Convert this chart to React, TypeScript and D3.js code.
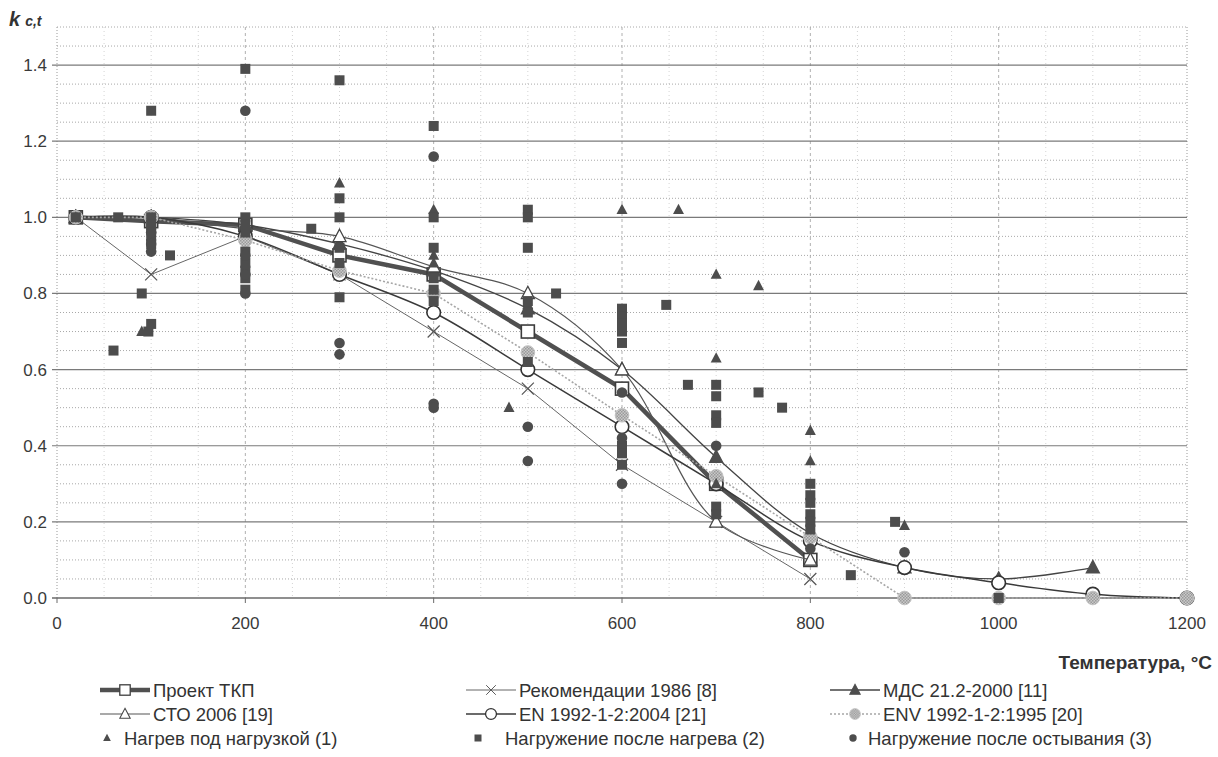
import React, { useEffect, useRef } from "react";
import * as d3 from "d3";

// design curves
const tkpT = [20, 100, 200, 300, 400, 500, 600, 700, 800];
const tkpK = [1.0, 0.99, 0.98, 0.9, 0.85, 0.7, 0.55, 0.3, 0.1];

const rekT = [20, 100, 200, 300, 400, 500, 600, 700, 800];
const rekK = [1.0, 0.85, 0.95, 0.85, 0.7, 0.55, 0.35, 0.2, 0.05];

const mdsT = [20, 100, 200, 300, 400, 500, 600, 700, 800, 900, 1000, 1100];
const mdsK = [1.0, 1.0, 0.98, 0.93, 0.86, 0.76, 0.6, 0.37, 0.17, 0.08, 0.05, 0.08];

const stoT = [20, 100, 200, 300, 400, 500, 600, 700, 800];
const stoK = [1.0, 1.0, 0.97, 0.95, 0.87, 0.8, 0.6, 0.2, 0.1];

const enT = [20, 100, 200, 300, 400, 500, 600, 700, 800, 900, 1000, 1100, 1200];
const enK = [1.0, 1.0, 0.95, 0.85, 0.75, 0.6, 0.45, 0.3, 0.15, 0.08, 0.04, 0.01, 0.0];

const envT = [20, 100, 200, 300, 400, 500, 600, 700, 800, 900, 1000, 1100, 1200];
const envK = [1.0, 1.0, 0.94, 0.86, 0.8, 0.645, 0.48, 0.32, 0.16, 0.0, 0.0, 0.0, 0.0];

// test results: [temperature, k]
const heatedLoaded = [
  [20, 1.0], [90, 0.7], [300, 1.09], [400, 1.02], [400, 0.9], [400, 0.88],
  [480, 0.5], [500, 0.77], [600, 1.02], [660, 1.02], [700, 0.85], [745, 0.82],
  [700, 0.63], [700, 0.37], [700, 0.3], [800, 0.44], [800, 0.36], [900, 0.19],
];

const loadedAfterHeat = [
  [20, 1.0], [60, 0.65], [65, 1.0], [90, 0.8], [97, 0.7], [100, 0.72], [100, 1.28],
  [100, 1.0], [100, 0.98], [100, 0.97], [100, 0.95], [100, 0.93], [120, 0.9],
  [200, 1.39], [200, 1.0], [200, 0.98], [200, 0.96], [200, 0.91], [200, 0.88],
  [200, 0.86], [200, 0.84], [200, 0.81], [270, 0.97], [300, 1.36], [300, 1.05],
  [300, 1.0], [300, 0.92], [300, 0.88], [300, 0.79], [400, 1.24], [400, 1.0],
  [400, 0.92], [400, 0.84], [400, 0.81], [400, 0.78], [500, 1.02], [500, 1.0],
  [500, 0.92], [500, 0.78], [500, 0.75], [500, 0.62], [530, 0.8], [600, 0.76],
  [600, 0.74], [600, 0.72], [600, 0.7], [600, 0.67], [600, 0.4], [600, 0.38],
  [600, 0.35], [647, 0.77], [670, 0.56], [700, 0.56], [700, 0.53], [700, 0.48],
  [700, 0.46], [700, 0.24], [700, 0.22], [745, 0.54], [770, 0.5], [800, 0.3],
  [800, 0.27], [800, 0.25], [800, 0.22], [800, 0.2], [800, 0.18], [843, 0.06],
  [890, 0.2], [1000, 0.0],
];

const loadedAfterCool = [
  [100, 0.91], [100, 0.93], [100, 0.96], [200, 1.28], [200, 0.8], [200, 0.85],
  [200, 0.9], [300, 0.67], [300, 0.64], [400, 1.16], [400, 0.51], [400, 0.5],
  [500, 0.45], [500, 0.36], [600, 0.54], [600, 0.42], [600, 0.3], [700, 0.4],
  [800, 0.13], [900, 0.12],
];

const xTicks = [0, 200, 400, 600, 800, 1000, 1200];
const yTicks = [0, 0.2, 0.4, 0.6, 0.8, 1.0, 1.2, 1.4];

const FONT = "'Liberation Sans', Arial, sans-serif";
const DARK = "#4d4d4d";

export default function App() {
  const svgRef = useRef<SVGSVGElement>(null);

  useEffect(() => {
    document.body.style.margin = "0";
    const svg = d3.select(svgRef.current);
    svg.selectAll("*").remove();

    const x = d3.scaleLinear().domain([0, 1200]).range([57, 1187]);
    const y = d3.scaleLinear().domain([0, 1.5]).range([598, 27]);

    // grid
    const grid = svg.append("g");
    d3.range(50, 1200, 50).filter(t => t % 200 !== 0).forEach(t => {
      grid.append("line").attr("x1", x(t)).attr("x2", x(t)).attr("y1", y(1.5)).attr("y2", y(0))
        .attr("stroke", "#d4d4d4").attr("stroke-dasharray", "1,3");
    });
    [200, 400, 600, 800, 1000].forEach(t => {
      grid.append("line").attr("x1", x(t)).attr("x2", x(t)).attr("y1", y(1.5)).attr("y2", y(0))
        .attr("stroke", "#b0b0b0").attr("stroke-dasharray", "3,3");
    });
    [0, 1200].forEach(t => {
      grid.append("line").attr("x1", x(t)).attr("x2", x(t)).attr("y1", y(1.5)).attr("y2", y(0))
        .attr("stroke", "#999").attr("stroke-dasharray", "1,2");
    });
    d3.range(1, 31).map(i => i * 0.05).forEach(v => {
      const major = Math.abs(v / 0.2 - Math.round(v / 0.2)) < 1e-6 && v < 1.45;
      if (major) return;
      grid.append("line").attr("x1", x(0)).attr("x2", x(1200)).attr("y1", y(v)).attr("y2", y(v))
        .attr("stroke", "#a8a8a8").attr("stroke-dasharray", "1,2");
    });
    yTicks.filter(v => v > 0).forEach(v => {
      grid.append("line").attr("x1", x(0) - 5).attr("x2", x(1200)).attr("y1", y(v)).attr("y2", y(v))
        .attr("stroke", "#7a7a7a").attr("stroke-width", 1.2);
    });
    // x axis
    grid.append("line").attr("x1", x(0) - 5).attr("x2", x(1200)).attr("y1", y(0)).attr("y2", y(0))
      .attr("stroke", "#6a6a6a").attr("stroke-width", 1.5);
    xTicks.forEach(t => {
      grid.append("line").attr("x1", x(t)).attr("x2", x(t)).attr("y1", y(0)).attr("y2", y(0) + 5)
        .attr("stroke", "#6a6a6a");
    });

    // tick labels
    const labels = svg.append("g").attr("font-family", FONT).attr("font-size", 17).attr("fill", "#3a3a3a");
    yTicks.forEach(v => {
      labels.append("text").attr("x", 47).attr("y", y(v) + 6).attr("text-anchor", "end").text(v.toFixed(1));
    });
    xTicks.forEach(t => {
      labels.append("text").attr("x", x(t)).attr("y", 629).attr("text-anchor", "middle").text(t);
    });

    // axis titles
    const yt = svg.append("text").attr("x", 9).attr("y", 26).attr("font-family", FONT)
      .attr("font-weight", "bold").attr("font-style", "italic").attr("fill", "#333");
    yt.append("tspan").attr("font-size", 20).text("k");
    yt.append("tspan").attr("font-size", 14).attr("dx", 5).attr("dy", 0).text("c,t");
    svg.append("text").attr("x", 1212).attr("y", 669).attr("text-anchor", "end").attr("font-family", FONT)
      .attr("font-weight", "bold").attr("font-size", 19).attr("fill", "#333").text("Температура, °C");

    // marker drawing
    const marker = (g: any, type: string, cx: number, cy: number) => {
      if (type === "osq") {
        g.append("rect").attr("x", cx - 6.5).attr("y", cy - 6.5).attr("width", 13).attr("height", 13)
          .attr("fill", "#fff").attr("stroke", "#3c3c3c").attr("stroke-width", 1.6);
      } else if (type === "cross") {
        const s = 6;
        g.append("path").attr("d", `M${cx - s},${cy - s}L${cx + s},${cy + s}M${cx - s},${cy + s}L${cx + s},${cy - s}`)
          .attr("stroke", "#555").attr("stroke-width", 1.2);
      } else if (type === "ftri" || type === "otri") {
        const s = 13;
        g.append("path").attr("d", `M${cx},${cy - s * 0.55}L${cx + s / 2},${cy + s * 0.4}L${cx - s / 2},${cy + s * 0.4}Z`)
          .attr("fill", type === "ftri" ? DARK : "#fff").attr("stroke", type === "ftri" ? DARK : "#444")
          .attr("stroke-width", 1.3);
      } else if (type === "ocirc") {
        g.append("circle").attr("cx", cx).attr("cy", cy).attr("r", 6.8)
          .attr("fill", "#fff").attr("stroke", "#333").attr("stroke-width", 1.6);
      } else if (type === "gcirc") {
        g.append("circle").attr("cx", cx).attr("cy", cy).attr("r", 6.8)
          .attr("fill", "url(#hatch)").attr("stroke", "#c4c4c4").attr("stroke-width", 1);
      } else if (type === "dtri") {
        const s = 11;
        g.append("path").attr("d", `M${cx},${cy - s * 0.55}L${cx + s / 2},${cy + s * 0.4}L${cx - s / 2},${cy + s * 0.4}Z`)
          .attr("fill", DARK);
      } else if (type === "dsq") {
        g.append("rect").attr("x", cx - 5).attr("y", cy - 5).attr("width", 10).attr("height", 10)
          .attr("fill", DARK);
      } else if (type === "dcirc") {
        g.append("circle").attr("cx", cx).attr("cy", cy).attr("r", 5.3).attr("fill", DARK);
      }
    };

    const defs = svg.append("defs");
    const pat = defs.append("pattern").attr("id", "hatch").attr("width", 3).attr("height", 3)
      .attr("patternUnits", "userSpaceOnUse");
    pat.append("rect").attr("width", 3).attr("height", 3).attr("fill", "#c9c9c9");
    pat.append("rect").attr("width", 1.5).attr("height", 1.5).attr("fill", "#9a9a9a");
    pat.append("rect").attr("x", 1.5).attr("y", 1.5).attr("width", 1.5).attr("height", 1.5).attr("fill", "#9a9a9a");

    // legend order = drawing order
    const series = [
      { T: tkpT, K: tkpK, stroke: "#505050", width: 4.5, dash: null, curve: d3.curveLinear, m: "osq" },
      { T: rekT, K: rekK, stroke: "#666", width: 1, dash: null, curve: d3.curveLinear, m: "cross" },
      { T: mdsT, K: mdsK, stroke: "#444", width: 1.3, dash: null, curve: d3.curveCatmullRom, m: "ftri" },
      { T: stoT, K: stoK, stroke: "#555", width: 1.2, dash: null, curve: d3.curveCatmullRom, m: "otri" },
      { T: enT, K: enK, stroke: "#3a3a3a", width: 1.5, dash: null, curve: d3.curveCatmullRom, m: "ocirc" },
      { T: envT, K: envK, stroke: "#a6a6a6", width: 1.6, dash: "2,2", curve: d3.curveLinear, m: "gcirc" },
    ];

    const linesG = svg.append("g");
    series.forEach(s => {
      const pts = s.T.map((t, i) => [t, s.K[i]] as [number, number]);
      const line = d3.line<[number, number]>().x(d => x(d[0])).y(d => y(d[1])).curve(s.curve);
      linesG.append("path").attr("d", line(pts)).attr("fill", "none").attr("stroke", s.stroke)
        .attr("stroke-width", s.width).attr("stroke-dasharray", s.dash);
      s.T.forEach((t, i) => marker(linesG, s.m, x(t), y(s.K[i])));
    });

    // test points
    const pointsG = svg.append("g");
    heatedLoaded.forEach(d => marker(pointsG, "dtri", x(d[0]), y(d[1])));
    loadedAfterHeat.forEach(d => marker(pointsG, "dsq", x(d[0]), y(d[1])));
    loadedAfterCool.forEach(d => marker(pointsG, "dcirc", x(d[0]), y(d[1])));

    // legend
    const leg = svg.append("g").attr("font-family", FONT).attr("font-size", 18.5).attr("fill", "#333");
    const scaled = (parent: any, s: number, cx: number, cy: number) =>
      parent.append("g").attr("transform", `translate(${cx},${cy}) scale(${s}) translate(${-cx},${-cy})`);
    const legendLines = [
      { s: series[0], label: "Проект ТКП", lx: 100, row: 0 },
      { s: series[1], label: "Рекомендации 1986 [8]", lx: 466, row: 0 },
      { s: series[2], label: "МДС 21.2-2000 [11]", lx: 830, row: 0 },
      { s: series[3], label: "СТО 2006 [19]", lx: 100, row: 1 },
      { s: series[4], label: "EN 1992-1-2:2004 [21]", lx: 466, row: 1 },
      { s: series[5], label: "ENV 1992-1-2:1995 [20]", lx: 830, row: 1 },
    ];
    const rowY = [690, 714, 738];
    legendLines.forEach(l => {
      const cy = rowY[l.row];
      leg.append("line").attr("x1", l.lx).attr("x2", l.lx + 50).attr("y1", cy).attr("y2", cy)
        .attr("stroke", l.s.stroke).attr("stroke-width", l.s.width).attr("stroke-dasharray", l.s.dash);
      marker(scaled(leg, 0.8, l.lx + 25, cy), l.s.m, l.lx + 25, cy);
      leg.append("text").attr("x", l.lx + 53).attr("y", cy + 6.5).text(l.label);
    });
    const legendPts = [
      { m: "dtri", label: "Нагрев под нагрузкой (1)", mx: 107, tx: 124 },
      { m: "dsq", label: "Нагружение после нагрева (2)", mx: 478, tx: 505 },
      { m: "dcirc", label: "Нагружение после остывания (3)", mx: 853, tx: 868 },
    ];
    legendPts.forEach(l => {
      const cy = rowY[2];
      marker(scaled(leg, 0.7, l.mx, cy), l.m, l.mx, cy);
      leg.append("text").attr("x", l.tx).attr("y", cy + 6.5).text(l.label);
    });
  }, []);

  return <svg ref={svgRef} width={1218} height={757} style={{ display: "block", background: "#fff" }} />;
}
